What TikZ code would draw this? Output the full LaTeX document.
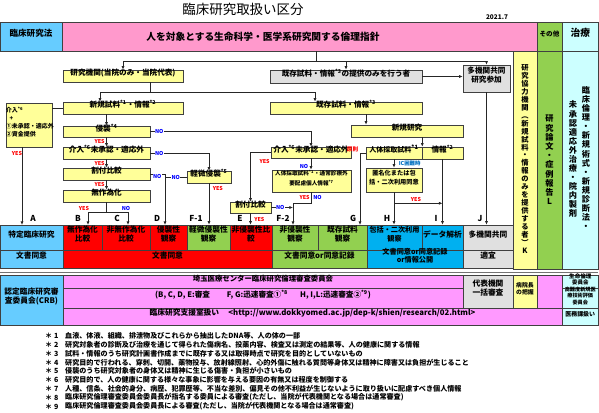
\documentclass[tikz,border=0pt]{standalone}
\usepackage{fontspec}
\setmainfont{Noto Sans CJK JP}
\usetikzlibrary{arrows.meta,calc,fit}

\definecolor{lawblue}{HTML}{66CCFF}
\definecolor{guidepink}{HTML}{FF99CC}
\definecolor{othergreen}{HTML}{92D050}
\definecolor{treatcyan}{HTML}{CCFFFF}
\definecolor{boxyellow}{HTML}{FFFF99}
\definecolor{boxgray}{HTML}{E0E0E0}
\definecolor{crbpink}{HTML}{FF99FF}
\definecolor{infoblue}{HTML}{00B0F0}
\definecolor{noblue}{HTML}{0000FF}
\definecolor{icblue}{HTML}{0070C0}

\newcommand{\fnm}[1]{\textsuperscript{*#1}}
\newcommand{\boxfont}{\fontsize{6.5}{7.6}\selectfont\bfseries}
\newcommand{\cellfont}{\fontsize{6.6}{7.8}\selectfont\bfseries}
\newcommand{\tagfont}{\fontsize{4.6}{5}\selectfont\bfseries}
\newcommand{\letfont}{\fontsize{7}{8}\selectfont\bfseries}
\newcommand{\notefont}{\fontsize{6.05}{7}\selectfont\bfseries}

\tikzset{
	cell/.style={draw=black!75, line width=0.5pt, inner sep=0pt, align=center, font=\cellfont},
	ybox/.style={cell, fill=boxyellow, font=\boxfont},
	gbox/.style={cell, fill=boxgray, font=\boxfont},
	conn/.style={line width=0.6pt, draw=black!85},
	arr/.style={conn, -{Latex[length=3pt,width=2.6pt]}},
	yes/.style={text=red, font=\tagfont, inner sep=0.5pt},
	no/.style={text=noblue, font=\tagfont, inner sep=0.5pt},
	colname/.style={font=\letfont, inner sep=0pt},
	vtext/.style={align=center, inner sep=0pt},
	note/.style={anchor=west, font=\notefont, inner sep=0pt},
}

\begin{document}
\begin{tikzpicture}[x=0.3mm,y=-0.3mm]
	\useasboundingbox (0,0) rectangle (599,412);
	% header
	\node[font=\fontsize{11.5}{13}\selectfont] (title) at (243,9) {臨床研究取扱い区分};
	\node[font=\fontsize{5.5}{6}\selectfont\bfseries] (date) at (497,17) {2021.7};
	\node[cell, fill=lawblue, fit={(0,22) (62,51)}, font=\fontsize{7.3}{8}\selectfont\bfseries] (hdlaw) {臨床研究法};
	\node[cell, fill=guidepink, fit={(62,22) (537,51)}] (hdguide) {};
	\node[font=\fontsize{8.3}{9}\selectfont\bfseries] (guidetxt) at (263,36.5) {人を対象とする生命科学・医学系研究関する倫理指針};
	\node[cell, fill=othergreen, fit={(537,22) (562,51)}, font=\fontsize{5.6}{6}\selectfont\bfseries] (hdother) {その他};
	\node[cell, fill=treatcyan, fit={(562,22) (598.5,51)}, font=\fontsize{8.3}{9}\selectfont\bfseries] (hdtreat) {治療};
	% right columns
	\node[cell, fill=boxyellow, fit={(513,51) (537,269)}] (colK) {};
	\node[cell, fill=othergreen, fit={(537,51) (562,269)}] (colL) {};
	\node[cell, fill=treatcyan, fit={(562,51) (598.5,269)}] (colM) {};
	\node[vtext, font=\fontsize{6.2}{6.8}\selectfont\bfseries] (ktext) at (525,159) {研\\究\\協\\力\\機\\関\\︵\\新\\規\\試\\料\\・\\情\\報\\の\\み\\を\\提\\供\\す\\る\\者\\︶\\K};
	\node[vtext, font=\fontsize{7}{7.85}\selectfont\bfseries] (ltext) at (549.5,160) {研\\究\\論\\文\\・\\症\\例\\報\\告\\L};
	\node[vtext, font=\fontsize{7}{7.7}\selectfont\bfseries] (mtextr) at (586,158) {臨\\床\\倫\\理\\・\\新\\規\\術\\式\\・\\新\\規\\診\\断\\法\\・};
	\node[vtext, font=\fontsize{7}{7.7}\selectfont\bfseries] (mtextl) at (573,159) {未\\承\\認\\適\\応\\外\\治\\療\\・\\院\\内\\製\\剤};
	% flow boxes
	\node[ybox, fit={(63,70) (183,82)}] (inst) {研究機関(当院のみ・当院代表)};
	\node[ybox, fit={(63,102) (183,114)}] (newdat) {新規試料\fnm{1}・情報\fnm{2}};
	\node[gbox, fit={(270,70) (422,83)}] (oldprov) {既存試料・情報\fnm{3}の提供のみを行う者};
	\node[gbox, fit={(463,65) (510,92)}] (multi) {多機関共同\\研究参加};
	\node[ybox, fit={(270,102) (422,114)}] (olddat) {既存試料・情報\fnm{3}};
	\node[ybox, fit={(3,103) (55,147)}, font=\fontsize{5.1}{6.8}\selectfont\bfseries, align=left, text width=13.8mm] (inv4) {介入\fnm{6}\\\hspace{3pt}+\\①未承認・適応外\\②資金提供};
	\node[ybox, fit={(63,126) (150,137)}] (invas) {侵襲\fnm{4}};
	\node[ybox, fit={(63,147) (150,159)}] (interv) {介入\fnm{6}未承認・適応外};
	\node[ybox, fit={(63,168) (150,180)}] (alloc) {割付比較};
	\node[ybox, fit={(63,190) (150,202)}] (random) {無作為化};
	\node[ybox, fit={(187,171) (231,183)}] (minor) {軽微侵襲\fnm{5}};
	\node[ybox, fit={(271,147) (351,158)}] (interv2) {介入\fnm{6}未承認・適応外};
	\node[ybox, fit={(272,170) (351,192)}, font=\fontsize{4.8}{8.3}\selectfont\bfseries] (human) {人体採取試料\fnm{1}・通常診療外\\要配慮個人情報\fnm{7}};
	\node[ybox, fit={(230,202) (271,213)}] (alloc2) {割付比較};
	\node[ybox, fit={(351,125) (463,137)}] (newres) {新規研究};
	\node[ybox, fit={(366,147) (422,159)}, font=\fontsize{6}{7}\selectfont\bfseries] (samp) {人体採取試料\fnm{1}};
	\node[ybox, fit={(422,147) (463,159)}] (info) {情報\fnm{2}};
	\node[ybox, fit={(366,168) (422,192)}, font=\fontsize{5.3}{8}\selectfont\bfseries] (anon) {匿名化または包\\括・二次利用同意};
	% table
	\node[cell, fill=lawblue, fit={(0,225) (63,250)}] (spec) {特定臨床研究};
	\node[cell, fill=red, fit={(63,225) (102,250)}] (cB) {無作為化\\比較};
	\node[cell, fill=red, fit={(102,225) (150,250)}] (cC) {非無作為化\\比較};
	\node[cell, fill=red, fit={(150,225) (187,250)}] (cD) {侵襲性\\観察};
	\node[cell, fill=othergreen, fit={(187,225) (230,250)}] (cF1) {軽微侵襲性\\観察};
	\node[cell, fill=red, fit={(230,225) (272,250)}] (cE) {非侵襲性比\\較};
	\node[cell, fill=othergreen, fit={(272,225) (318,250)}] (cF2) {非侵襲性\\観察};
	\node[cell, fill=othergreen, fit={(318,225) (367,250)}] (cG) {既存試料\\観察};
	\node[cell, fill=infoblue, fit={(367,225) (422,250)}, font=\fontsize{6.1}{7.8}\selectfont\bfseries] (cH) {包括・二次利用\\観察};
	\node[cell, fill=infoblue, fit={(422,225) (463,250)}] (cI) {データ解析};
	\node[cell, fill=boxgray, fit={(463,225) (513,250)}] (cJ) {多機関共同};
	\node[cell, fill=lawblue, fit={(0,250) (63,268)}] (conLaw) {文書同意};
	\node[cell, fill=red, fit={(63,250) (272,268)}] (conRed) {文書同意};
	\node[cell, fill=othergreen, fit={(272,250) (367,268)}] (conGreen) {文書同意or同意記録};
	\node[cell, fill=infoblue, fit={(367,250) (463,268)}, font=\fontsize{6.1}{6.8}\selectfont\bfseries] (conBlue) {文書同意or同意記録\\or情報公開};
	\node[cell, fill=boxgray, fit={(463,250) (513,268)}] (conGray) {適宜};
	\draw[line width=0.5pt, black!55] (conLaw.south west) ++(0,3.5) -- ++(598.5,0);
	% review rows
	\node[cell, fill=lawblue, fit={(0,275) (63,325)}] (crb) {認定臨床研究審\\査委員会(CRB)};
	\node[cell, fill=crbpink, fit={(63,275) (463,288)}, font=\fontsize{6.3}{7}\selectfont\bfseries] (irb) {埼玉医療センター臨床研究倫理審査委員会};
	\node[cell, fill=crbpink, fit={(63,288) (463,308)}, font=\fontsize{6.5}{7}\selectfont\bfseries] (rev) {(B, C, D, E:審査\hspace{2.2em}F, G:迅速審査①\fnm{8}\hspace{1.6em}H, I,L:迅速審査②\fnm{9})};
	\node[cell, fill=boxgray, fit={(463,275) (513,308)}] (rep) {代表機関\\一括審査};
	\node[cell, fill=boxyellow, fit={(513,275) (537,308)}, font=\fontsize{5}{6.2}\selectfont\bfseries] (dir) {病院長\\の把握};
	\node[cell, fill=crbpink, fit={(537,275) (562,308)}] (blank) {};
	\node[cell, fill=treatcyan, fit={(562,275) (598.5,288)}, font=\fontsize{4.7}{5.4}\selectfont\bfseries] (eth) {生命倫理\\委員会};
	\node[cell, fill=treatcyan, fit={(562,288) (598.5,308)}, font=\fontsize{4.4}{5.4}\selectfont\bfseries] (hta) {高難度新規医\\療技術評価\\委員会};
	\node[cell, fill=crbpink, fit={(63,308) (562,325)}, font=\fontsize{6.6}{7}\selectfont\bfseries] (supp) {臨床研究支援室扱い\hspace{1.2em}<http://www.dokkyomed.ac.jp/dep-k/shien/research/02.html>};
	\node[cell, fill=treatcyan, fit={(562,308) (598.5,325)}, font=\fontsize{5.1}{6}\selectfont\bfseries] (med) {医務課扱い};
	% connectors
	\coordinate (top) at (316,61);
	\draw[conn] (hdguide.south -| top) -- (top);
	\draw[arr] (top) -| (inst.north);
	\draw[arr] (top) -| (oldprov.north);
	\draw[arr] (top) -| (multi.north);
	\draw[arr] (oldprov.east) -- (oldprov.east -| multi.west);
	\coordinate (split) at (150,92);
	\coordinate (xnew) at (100,92);
	\coordinate (xold) at (315,92);
	\draw[conn] (inst.south -| split) -- (split);
	\draw[conn] (xnew) -- (xold);
	\draw[arr] (xnew) -- (newdat.north -| xnew);
	\draw[arr] (xold) -- (olddat.north -| xold);
	\draw[conn] (inv4.east |- newdat.west) -- (newdat.west);
	\coordinate (xA) at (22,225);
	\draw[arr] (inv4.south -| xA) -- (xA);
	\draw[arr] (newdat.south -| invas) -- (invas.north);
	\draw[arr] (invas.south) -- (interv.north);
	\draw[arr] (interv.south) -- (alloc.north);
	\draw[arr] (alloc.south) -- (random.north);
	\coordinate (rs) at ($(random.south)+(0,10)$);
	\coordinate (xB) at (88,225);
	\coordinate (xC) at (128,225);
	\draw[conn] (random.south) -- (rs);
	\draw[arr] (rs) -| (xB);
	\draw[arr] (rs) -| (xC);
	\coordinate (xD) at (165,225);
	\draw[arr] (alloc.east) -| (xD);
	\draw[conn] (minor.west) -- (minor.west -| xD);
	\draw[arr] (interv.east) -| (minor.north);
	\draw[arr] (minor.south) -- (minor.south |- cF1.north);
	\draw[arr] (invas.east) -| (interv2.north);
	\draw[arr] (interv2.west) -| (alloc2.north);
	\draw[arr] (interv2.south) -- (interv2.south |- human.north);
	\draw[arr] (alloc2.south) -- (alloc2.south |- cE.north);
	\coordinate (xF2) at (293,225);
	\coordinate (hj) at (293,203);
	\draw[arr] (alloc2.east) -- (alloc2.east -| xF2);
	\draw[conn] (human.south) |- (hj);
	\draw[arr] (hj) -- (xF2);
	\coordinate (xnr) at (366,120);
	\draw[arr] (olddat.south -| xnr) -- (newres.north -| xnr);
	\draw[arr] (newres.south -| samp.east) -- (samp.north east);
	\coordinate (xG) at (360,225);
	\draw[arr] (samp.west) -| (xG);
	\draw[arr] (samp.south -| anon) -- (anon.north);
	\draw[arr] (anon.south) -- (anon.south |- cH.north);
	\coordinate (yj) at ($(anon.south)+(0,11)$);
	\draw[arr] (yj) -- (yj -| info);
	\draw[arr] (info.south) -- (info.south |- cI.north);
	\draw[arr] (multi.south) -- (multi.south |- cJ.north);
	\draw[conn] (hdlaw.south west) -- (spec.north west);
	% yes / no
	\node[yes] (y1) at (17,153) {YES};
	\node[yes, anchor=east] (y2) at ($(invas.south)+(-1,4)$) {YES};
	\node[yes, anchor=east] (y3) at ($(interv.south)+(-1,4.2)$) {YES};
	\node[yes, anchor=east] (y4) at ($(alloc.south)+(-1,4.6)$) {YES};
	\node[yes, anchor=south] (y5) at ($(rs -| xB)+(-4,-1)$) {YES};
	\node[no, anchor=south] (n5) at ($(rs -| xC)+(-2,-1)$) {NO};
	\node[no, fill=white] (n1) at ($(invas.east)+(9,0)$) {NO};
	\node[no, fill=white] (n2) at ($(interv.east)+(9,0)$) {NO};
	\node[no, fill=white] (n3) at ($(alloc.east)+(7,2)$) {NO};
	\node[no, fill=white] (n4) at ($(minor.west)+(-11,0)$) {NO};
	\node[yes, anchor=west] (y6) at ($(minor.south)+(3,5)$) {YES};
	\node[yes, anchor=north west] (y7) at ($(interv2.west)+(-12,6)$) {YES};
	\node[no, anchor=east] (n6) at ($(interv2.south)+(-2,8)$) {NO};
	\node[no, fill=white] (n7) at ($(alloc2.east)+(9,0)$) {NO};
	\node[yes, anchor=west] (y8) at ($(alloc2.south |- cE.north)+(3,-5)$) {YES};
	\node[yes, anchor=east] (y9) at ($(human.south)+(-1,5)$) {YES};
	\node[no, anchor=west] (n8) at ($(human.south)+(1,5)$) {NO};
	\node[yes, anchor=south east, font=\fontsize{4.8}{5}\selectfont\bfseries] (rule) at ($(samp.west -| xG)+(-1,0)$) {原則};
	\node[anchor=west, text=icblue, font=\tagfont, inner sep=0.5pt] (ic) at ($(samp.south -| anon)+(4,4)$) {IC困難時};
	\node[yes, anchor=south] (y10) at ($(yj)+(22,-1)$) {YES};
	% column letters
	\node[colname] (lA) at (33,218) {A};
	\node[colname] (lB) at (78,218) {B};
	\node[colname] (lC) at (117,218) {C};
	\node[colname] (lD) at (157,218) {D};
	\node[colname] (lF1) at (196,218) {F-1};
	\node[colname] (lE) at (240,218) {E};
	\node[colname] (lF2) at (283,218) {F-2};
	\node[colname] (lG) at (353,218) {G};
	\node[colname] (lH) at (387,218) {H};
	\node[colname] (lI) at (436,218) {I};
	\node[colname] (lJ) at (480,218) {J};
	% notes
	\node[note] (m1) at (45,336) {＊\hspace{1.5pt}1};
	\node[note] (f1) at (65,336) {血液、体液、組織、排泄物及びこれらから抽出したDNA等、人の体の一部};
	\node[note] (m2) at (45,344.8) {＊\hspace{1.5pt}2};
	\node[note] (f2) at (65,344.8) {研究対象者の診断及び治療を通じて得られた傷病名、投薬内容、検査又は測定の結果等、人の健康に関する情報};
	\node[note] (m3) at (45,353.6) {＊\hspace{1.5pt}3};
	\node[note] (f3) at (65,353.6) {試料・情報のうち研究計画書作成までに既存する又は取得時点で研究を目的としていないもの};
	\node[note] (m4) at (45,362.4) {＊\hspace{1.5pt}4};
	\node[note] (f4) at (65,362.4) {研究目的で行われる、穿刺、切開、薬物投与、放射線照射、心的外傷に触れる質問等身体又は精神に障害又は負担が生じること};
	\node[note] (m5) at (45,371.2) {＊\hspace{1.5pt}5};
	\node[note] (f5) at (65,371.2) {侵襲のうち研究対象者の身体又は精神に生じる傷害・負担が小さいもの};
	\node[note] (m6) at (45,380) {＊\hspace{1.5pt}6};
	\node[note] (f6) at (65,380) {研究目的で、人の健康に関する様々な事象に影響を与える要因の有無又は程度を制御する};
	\node[note] (m7) at (45,388.8) {＊\hspace{1.5pt}7};
	\node[note] (f7) at (65,388.8) {人種、信条、社会的身分、病歴、犯罪歴等、不当な差別、偏見その他不利益が生じないように取り扱いに配慮すべき個人情報};
	\node[note] (m8) at (45,397.6) {＊\hspace{1.5pt}8};
	\node[note] (f8) at (65,397.6) {臨床研究倫理審査委員会委員長が指名する委員による審査(ただし、当院が代表機関となる場合は通常審査)};
	\node[note] (m9) at (45,406.4) {＊\hspace{1.5pt}9};
	\node[note] (f9) at (65,406.4) {臨床研究倫理審査委員会委員長による審査(ただし、当院が代表機関となる場合は通常審査)};
\end{tikzpicture}
\end{document}
